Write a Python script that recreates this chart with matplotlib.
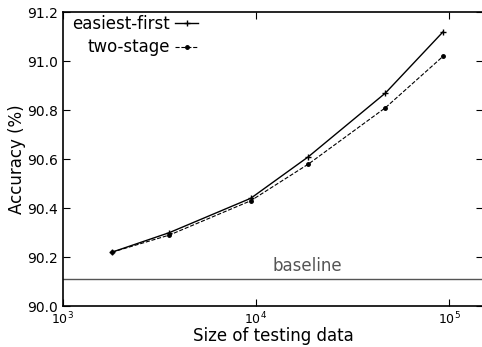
import matplotlib
matplotlib.use('Agg')
import matplotlib.pyplot as plt
import numpy as np

plt.rcParams['mathtext.fontset'] = 'cm'
plt.rcParams['xtick.direction'] = 'in'
plt.rcParams['ytick.direction'] = 'in'

# testing set sizes and accuracies
sizes = [1800, 3570, 9400, 18700, 46800, 93000]
easiest_first = [90.22, 90.30, 90.44, 90.61, 90.87, 91.12]
two_stage = [90.22, 90.29, 90.43, 90.58, 90.81, 91.02]
baseline = 90.11

fig = plt.figure(figsize=(4.82, 3.47), dpi=100)
ax = fig.add_axes([0.130, 0.118, 0.873, 0.847])

ax.plot(sizes, easiest_first, '-', color='black', lw=1, marker='+', ms=5,
        mew=1, label='easiest-first')
ax.plot(sizes, two_stage, '--', color='black', lw=0.8, marker='.', ms=5,
        label='two-stage')
ax.axhline(baseline, color='#555555', lw=1)
ax.text(18500, baseline + 0.018, 'baseline', color='#555555', fontsize=12,
        ha='center', va='bottom')

ax.set_xscale('log')
ax.set_xlim(1e3, 10 ** 5.177)
ax.set_ylim(90.0, 91.2)
ax.set_yticks(np.arange(90.0, 91.21, 0.2))
ax.set_yticklabels(['%.1f' % v for v in np.arange(90.0, 91.21, 0.2)])
ax.minorticks_off()
ax.tick_params(top=True, right=True, labelsize=10, length=5, width=0.8)
ax.tick_params(axis='x', labelsize=9, pad=3)

ax.set_xlabel('Size of testing data', fontsize=12, labelpad=0)
ax.set_ylabel('Accuracy (%)', fontsize=12, labelpad=1)

for s in ax.spines.values():
    s.set_linewidth(1.2)

ax.legend(loc='upper left', bbox_to_anchor=(0.017, 1.0), frameon=False,
          markerfirst=False, fontsize=12, handlelength=1.4,
          handletextpad=0.3, borderaxespad=0.0, borderpad=0.15,
          labelspacing=0.35)

fig.savefig('out.png', dpi=100)
